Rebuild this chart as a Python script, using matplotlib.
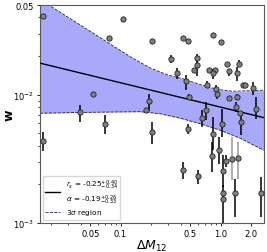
import numpy as np
import matplotlib
matplotlib.use('Agg')
import matplotlib.pyplot as plt

# measured points: mass difference, w, lower/upper end of the error bar
dm12 = [0.0167, 0.1067, 0.0773, 0.208, 0.0525, 0.0395, 0.193, 0.179, 0.0169, 0.0705,
        0.208, 0.419, 0.476, 0.847, 1.0, 0.318, 0.365, 0.578, 0.578, 0.543,
        0.447, 0.773, 0.881, 0.841, 0.728, 0.488, 1.153, 1.216, 1.531, 1.472,
        0.891, 0.916, 1.224, 1.690, 1.758, 2.09, 1.472, 1.429, 1.556, 2.26,
        0.721, 0.653, 0.470, 0.841, 1.028, 0.828, 0.966, 1.135, 1.059, 1.059,
        1.066, 1.403, 2.56, 0.425, 0.589, 1.603]
w = [0.0410, 0.0391, 0.0277, 0.0260, 0.0101, 0.00728, 0.00893, 0.00755, 0.00435, 0.00594,
     0.00512, 0.0277, 0.0263, 0.0294, 0.0258, 0.0191, 0.0148, 0.0195, 0.0169, 0.0157,
     0.0127, 0.0157, 0.0155, 0.0148, 0.0120, 0.0096, 0.0172, 0.0152, 0.0175, 0.0148,
     0.0110, 0.01005, 0.00942, 0.0120, 0.0120, 0.0113, 0.0096, 0.00802, 0.00720, 0.00778,
     0.00755, 0.00653, 0.00543, 0.00497, 0.00594, 0.00333, 0.00373, 0.00303, 0.00252, 0.00171,
     0.00153, 0.00171, 0.00171, 0.0026, 0.00231, 0.00612]
w_lo = [0.0410, 0.0391, 0.0277, 0.0260, 0.0097, 0.00617, 0.00741, 0.0072, 0.00361, 0.00497,
        0.00415, 0.0277, 0.0263, 0.0294, 0.0258, 0.0177, 0.0133, 0.0181, 0.0141, 0.0157,
        0.0108, 0.0157, 0.0155, 0.0133, 0.0113, 0.00903, 0.0172, 0.0140, 0.0164, 0.0129,
        0.0105, 0.0093, 0.00942, 0.0120, 0.0120, 0.00988, 0.00903, 0.00733, 0.00720, 0.0065,
        0.00631, 0.0056, 0.00497, 0.0037, 0.00471, 0.0025, 0.0029, 0.00273, 0.00191, 0.00171,
        0.0009, 0.00111, 0.00111, 0.00221, 0.00202, 0.00482]
w_hi = [0.0410, 0.0391, 0.0277, 0.0260, 0.0105, 0.00836, 0.0102, 0.0079, 0.00512, 0.00690,
        0.00612, 0.0277, 0.0263, 0.0294, 0.0258, 0.0205, 0.0161, 0.0209, 0.0184, 0.0157,
        0.0143, 0.0157, 0.0155, 0.0160, 0.0129, 0.0102, 0.0172, 0.0160, 0.0185, 0.0164,
        0.0118, 0.0108, 0.00942, 0.0120, 0.0120, 0.0126, 0.0102, 0.00877, 0.00720, 0.0096,
        0.00877, 0.00755, 0.00594, 0.0067, 0.00778, 0.00428, 0.00467, 0.00337, 0.00337, 0.00171,
        0.00196, 0.00221, 0.00229, 0.00299, 0.00257, 0.00733]
# points drawn with lighter error bars
gray_dm12 = [1.294, 1.486]
gray_w = [0.00313, 0.00321]
gray_lo = [0.00215, 0.00221]
gray_hi = [0.00467, 0.00428]

# power-law fit
fit_norm = 0.008
fit_alpha = -0.19

# 3 sigma band edges
band_up_x = [0.01567, 0.01897, 0.0624, 0.1245, 0.197, 0.292, 0.422, 0.624, 0.923, 1.334, 2.69]
band_up_y = [0.0553, 0.0503, 0.0279, 0.0198, 0.0162, 0.0143, 0.0133, 0.0120, 0.0110, 0.01064, 0.01084]
band_lo_x = [0.01567, 0.0624, 0.1567, 0.248, 0.394, 0.624, 0.989, 1.567, 2.69]
band_lo_y = [0.00717, 0.00731, 0.00737, 0.00711, 0.00656, 0.00594, 0.00529, 0.00458, 0.00369]

x_ticks = [0.05, 0.1, 0.5, 1.0, 2.0]
x_ticklabels = ['0.05', '0.1', '0.5', '1.0', '2.0']
y_ticks = [1e-3, 1e-2, 0.05]
y_ticklabels = ['$10^{-3}$', '$10^{-2}$', '0.05']

fig = plt.figure(figsize=(2.67, 2.53), dpi=100)
ax = fig.add_axes([0.15, 0.115, 0.837, 0.861])
ax.set_xscale('log')
ax.set_yscale('log')
xmin, xmax = 0.01567, 2.69

# band: interpolate both edges on a common grid in log space
grid = np.logspace(np.log10(xmin), np.log10(xmax), 200)
up = 10**np.interp(np.log10(grid), np.log10(band_up_x), np.log10(band_up_y))
lo = 10**np.interp(np.log10(grid), np.log10(band_lo_x), np.log10(band_lo_y))
ax.fill_between(grid, lo, up, color='#a9a9fb', lw=0, zorder=1)
ax.plot(band_up_x, band_up_y, '--', color='#222244', lw=0.6, zorder=2)
ax.plot(band_lo_x, band_lo_y, '--', color='#222244', lw=0.6, zorder=2,
        label=r'3$\sigma$ region')

xs = np.array([xmin, xmax])
ax.plot(xs, fit_norm * xs**fit_alpha, 'k-', lw=1.0, zorder=3,
        label='$r_s$ = -0.25$^{+0.40}_{-0.34}$\n' + r'$\alpha$ = -0.19$^{+0.26}_{-0.33}$')

w_arr = np.array(w)
yerr = [w_arr - np.array(w_lo), np.array(w_hi) - w_arr]
ax.errorbar(dm12, w, yerr=yerr, fmt='o', ms=3.8, mfc='#808080', mec='#222222', mew=0.6,
            ecolor='k', elinewidth=1.1, capsize=0, zorder=4)
gw = np.array(gray_w)
ax.errorbar(gray_dm12, gray_w, yerr=[gw - np.array(gray_lo), np.array(gray_hi) - gw], fmt='o',
            ms=3.8, mfc='#808080', mec='#222222', mew=0.6, ecolor='#999999',
            elinewidth=1.1, capsize=0, zorder=4)

ax.set_xlim(xmin, xmax)
ax.set_ylim(1e-3, 0.05)
ax.set_xticks(x_ticks)
ax.set_xticklabels(x_ticklabels)
ax.set_yticks(y_ticks)
ax.set_yticklabels(y_ticklabels)
ax.tick_params(labelsize=6, length=2.5, width=0.6, pad=2)
ax.tick_params(which='minor', length=1.5, width=0.5)
ax.xaxis.set_minor_formatter(matplotlib.ticker.NullFormatter())
ax.yaxis.set_minor_formatter(matplotlib.ticker.NullFormatter())
for s in ax.spines.values():
    s.set_color('0.35')
    s.set_linewidth(0.8)

ax.set_xlabel(r'$\Delta M_{12}$', fontsize=9, labelpad=0)
ax.set_ylabel('w', fontsize=9, fontweight='bold')
ax.yaxis.set_label_coords(-0.11, 0.5)

h, l = ax.get_legend_handles_labels()
ax.legend(h[::-1], l[::-1], loc='lower left', fontsize=5.2, frameon=True,
          borderaxespad=0.4, borderpad=0.35, labelspacing=0.15, handletextpad=0.8)

fig.savefig('out.png', dpi=100)
